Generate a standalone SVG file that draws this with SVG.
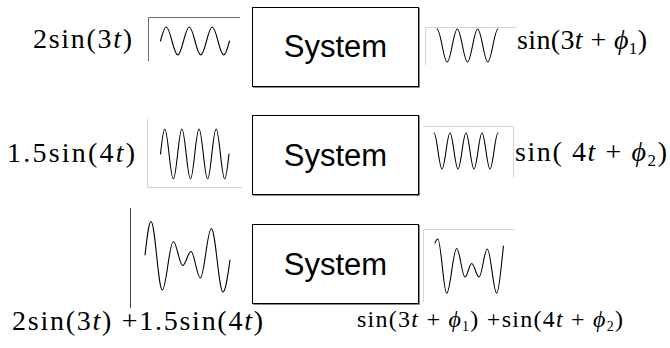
<svg xmlns="http://www.w3.org/2000/svg" width="670" height="348" viewBox="0 0 670 348">
<style>
.bg{fill:#fff}
.sys{fill:#fff;stroke:#000;stroke-width:1}
.shadow{fill:none;stroke:#8a8a8a;stroke-width:1}
.wave{fill:none;stroke:#000;stroke-width:1.1;stroke-linejoin:round;stroke-linecap:round}
.fdark{fill:none;stroke:#6a6a6a;stroke-width:1}
.flight{fill:none;stroke:#d4d4d4;stroke-width:1}
.axis{fill:none;stroke:#444;stroke-width:1}
.math{font-family:"Liberation Serif","Times New Roman",serif;font-size:28px;fill:#000}
.mathsm{font-family:"Liberation Serif","Times New Roman",serif;font-size:24px;fill:#000}
.lbl{font-family:"Liberation Sans",Arial,sans-serif;font-size:31px;fill:#000;text-anchor:middle}
.it{font-style:italic}
</style>
<rect class="bg" x="0" y="0" width="670" height="348"/>
<g id="connectors"/>

<!-- Row 1 -->
<g id="row1-input-label">
<text class="math" x="33" y="48" textLength="99" lengthAdjust="spacing">2sin(3<tspan class="it">t</tspan>)</text>
</g>
<g id="row1-input-signal">
<polyline class="fdark" points="148.5,61 148.5,17.5 240,17.5"/>
<path class="wave" d="M160.5,41 c1.875,-7.172 3.669,-14 5.75,-14 c2.081,0 3.875,6.828 5.75,14 c1.875,7.172 3.669,14 5.75,14 c2.081,0 3.875,-6.828 5.75,-14 c1.875,-7.172 3.669,-14 5.75,-14 c2.081,0 3.875,6.828 5.75,14 c1.875,7.172 3.669,14 5.75,14 c2.081,0 3.875,-6.828 5.75,-14 c1.875,-7.172 3.669,-14 5.75,-14 c2.081,0 3.875,6.828 5.75,14 c1.875,7.172 3.669,14 5.75,14 c2.081,0 3.875,-6.828 5.75,-14"/>
</g>
<g id="system1">
<rect class="sys" x="252.5" y="7.5" width="166" height="79"/>
<polyline class="shadow" points="419.5,8 419.5,87.5 253,87.5"/>
<text class="lbl" x="335.5" y="57">System</text>
</g>
<g id="row1-output-signal">
<polyline class="flight" points="425.5,65 425.5,27.5 517,27.5"/>
<path class="wave" d="M437,29 c1.840,0 3.426,8.047 5.083,16.5 c1.658,8.453 3.244,16.5 5.083,16.5 c1.840,0 3.426,-8.047 5.083,-16.5 c1.658,-8.453 3.244,-16.5 5.083,-16.5 c1.840,0 3.426,8.047 5.083,16.5 c1.658,8.453 3.244,16.5 5.083,16.5 c1.840,0 3.426,-8.047 5.083,-16.5 c1.658,-8.453 3.244,-16.5 5.083,-16.5 c1.840,0 3.426,8.047 5.083,16.5 c1.658,8.453 3.244,16.5 5.083,16.5 c1.840,0 3.426,-8.047 5.083,-16.5 c1.658,-8.453 3.244,-16.5 5.083,-16.5"/>
</g>
<g id="row1-output-label">
<text class="math" x="517" y="49" textLength="130" lengthAdjust="spacing">sin(3<tspan class="it">t</tspan> + <tspan class="it">ϕ</tspan><tspan font-size="17" dy="5">1</tspan><tspan dy="-5">)</tspan></text>
</g>

<!-- Row 2 -->
<g id="row2-input-label">
<text class="math" x="7" y="162" textLength="128" lengthAdjust="spacing">1.5sin(4<tspan class="it">t</tspan>)</text>
</g>
<g id="row2-input-signal">
<polyline class="flight" points="147.5,119 147.5,187.5 242,187.5"/>
<path class="wave" d="M160.5,154 c1.396,-12.81 2.731,-25 4.28,-25 c1.549,0 2.884,12.19 4.28,25 c1.396,12.81 2.731,25 4.28,25 c1.549,0 2.884,-12.19 4.28,-25 c1.396,-12.81 2.731,-25 4.28,-25 c1.549,0 2.884,12.19 4.28,25 c1.396,12.81 2.731,25 4.28,25 c1.549,0 2.884,-12.19 4.28,-25 c1.396,-12.81 2.731,-25 4.28,-25 c1.549,0 2.884,12.19 4.28,25 c1.396,12.81 2.731,25 4.28,25 c1.549,0 2.884,-12.19 4.28,-25 c1.396,-12.81 2.731,-25 4.28,-25 c1.549,0 2.884,12.19 4.28,25 c1.396,12.81 2.731,25 4.28,25 c1.549,0 2.884,-12.19 4.28,-25"/>
</g>
<g id="system2">
<rect class="sys" x="252.5" y="115.5" width="166" height="79"/>
<polyline class="shadow" points="419.5,116 419.5,195.5 253,195.5"/>
<text class="lbl" x="335.5" y="165.5">System</text>
</g>
<g id="row2-output-signal">
<polyline class="flight" points="423,126.5 513.5,126.5 513.5,178"/>
<path class="wave" d="M434,133 c1.448,0 2.696,8.779 4,18 c1.304,9.221 2.552,18 4,18 c1.448,0 2.696,-8.779 4,-18 c1.304,-9.221 2.552,-18 4,-18 c1.448,0 2.696,8.779 4,18 c1.304,9.221 2.552,18 4,18 c1.448,0 2.696,-8.779 4,-18 c1.304,-9.221 2.552,-18 4,-18 c1.448,0 2.696,8.779 4,18 c1.304,9.221 2.552,18 4,18 c1.448,0 2.696,-8.779 4,-18 c1.304,-9.221 2.552,-18 4,-18 c1.448,0 2.696,8.779 4,18 c1.304,9.221 2.552,18 4,18 c1.448,0 2.696,-8.779 4,-18 c1.304,-9.221 2.552,-18 4,-18"/>
</g>
<g id="row2-output-label">
<text class="math" x="515" y="161" textLength="152" lengthAdjust="spacing">sin( 4<tspan class="it">t</tspan> + <tspan class="it">ϕ</tspan><tspan font-size="17" dy="5">2</tspan><tspan dy="-5">)</tspan></text>
</g>

<!-- Row 3 -->
<g id="row3-input-signal">
<line class="axis" x1="130.5" y1="208" x2="130.5" y2="308"/>
<path class="wave" d="M145,255 C147,237.8 148.8,221.5 151,221.5 C155.1,221.5 158.2,290 162.3,290 C166.3,290 169.3,241.5 173.3,241.5 C176.7,241.5 179.3,265.5 182.7,265.5 C185.7,265.5 188,251.5 191,251.5 C194.3,251.5 197,278 200.3,278 C204.3,278 207.3,228.5 211.3,228.5 C215.5,228.5 218.8,292 223,292 C225.5,292 227.7,276.4 230,260"/>
</g>
<g id="system3">
<rect class="sys" x="252.5" y="224.5" width="166" height="79"/>
<polyline class="shadow" points="419.5,225 419.5,304.5 253,304.5"/>
<text class="lbl" x="335.5" y="275">System</text>
</g>
<g id="row3-output-signal">
<polyline class="flight" points="423.5,302 423.5,229.5 515,229.5"/>
<path class="wave" d="M435,243 C436,240.5 436.8,239 437.8,239 C441,239 443.5,293.3 446.7,293.3 C450.3,293.3 453.1,248.5 456.7,248.5 C459.7,248.5 462,277 465,277 C467.4,277 469.3,263.5 471.7,263.5 C474.3,263.5 476.4,277 479,277 C482,277 484.3,249 487.3,249 C490.7,249 493.3,293.3 496.7,293.3 C499.2,293.3 501.5,262 503.5,246"/>
</g>
<g id="row3-input-label">
<text class="math" x="12" y="330" textLength="251" lengthAdjust="spacing">2sin(3<tspan class="it">t</tspan>) +1.5sin(4<tspan class="it">t</tspan>)</text>
</g>
<g id="row3-output-label">
<text class="mathsm" x="357" y="327" textLength="266" lengthAdjust="spacing">sin(3<tspan class="it">t</tspan> + <tspan class="it">ϕ</tspan><tspan font-size="14" dy="4">1</tspan><tspan dy="-4">) +sin(4</tspan><tspan class="it">t</tspan> + <tspan class="it">ϕ</tspan><tspan font-size="14" dy="4">2</tspan><tspan dy="-4">)</tspan></text>
</g>
</svg>
